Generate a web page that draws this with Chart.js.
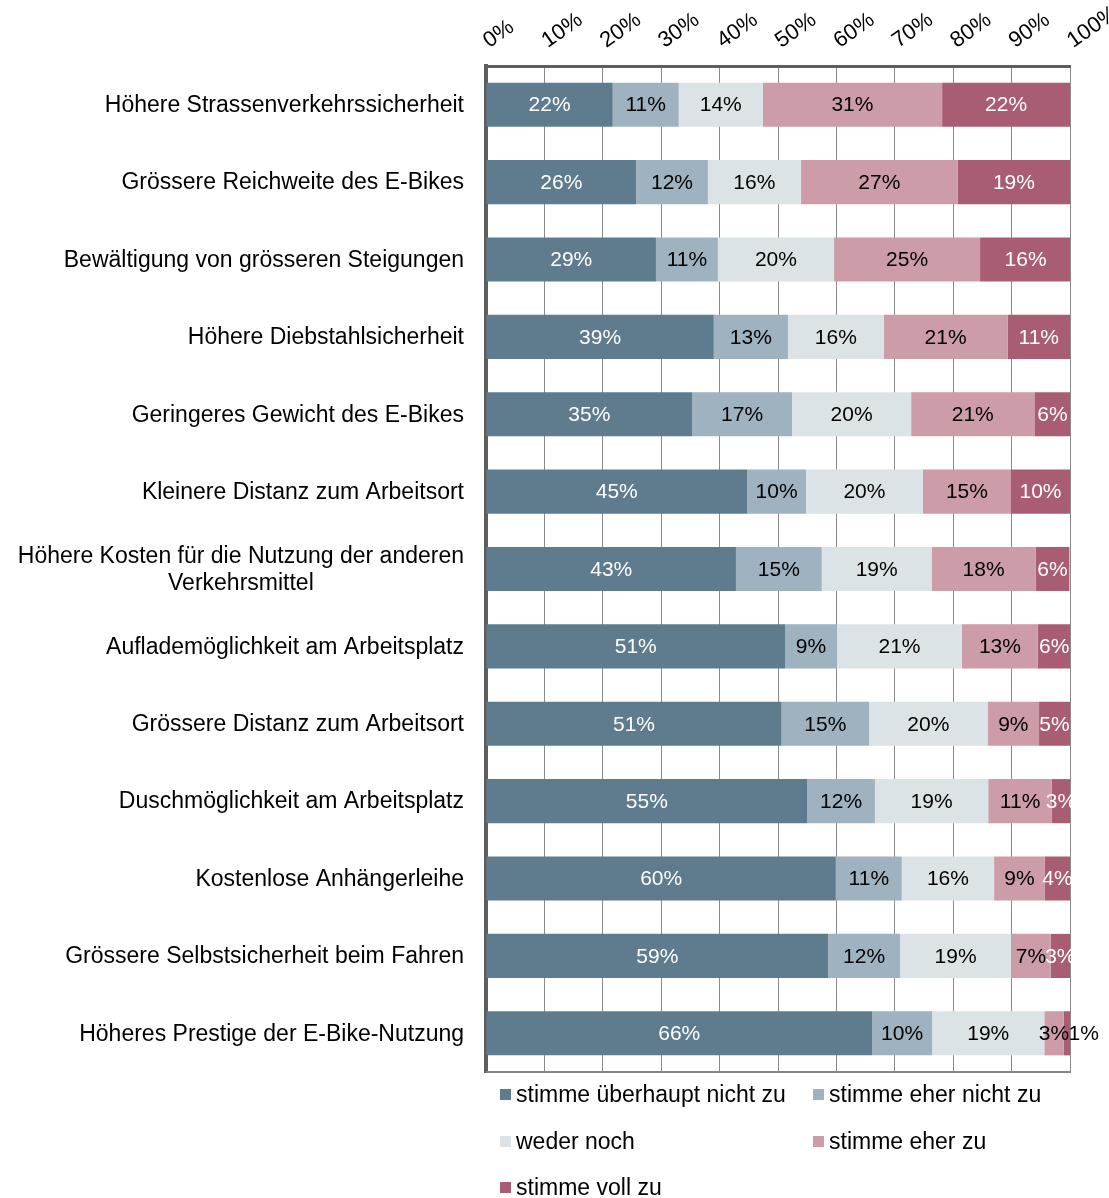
<!DOCTYPE html>
<html>
<head>
<meta charset="utf-8">
<script src="https://cdn.jsdelivr.net/npm/chart.js@4"></script>
<style>
  body { margin: 0; background: #fff; }
  #wrap { position: relative; width: 1109px; height: 1198px; }
  .legend { position: absolute; height: 24px; display: flex; align-items: center; font: 23px "Liberation Sans", Arial, sans-serif; color: #000; white-space: nowrap; }
  .legend i { display: inline-block; width: 11px; height: 11px; margin-right: 5px; }
</style>
</head>
<body>
<div id="wrap">
  <canvas id="c" width="1109" height="1198"></canvas>
</div>
<script>
// categories, top to bottom
var categories = [
  'Höhere Strassenverkehrssicherheit',
  'Grössere Reichweite des E-Bikes',
  'Bewältigung von grösseren Steigungen',
  'Höhere Diebstahlsicherheit',
  'Geringeres Gewicht des E-Bikes',
  'Kleinere Distanz zum Arbeitsort',
  ['Höhere Kosten für die Nutzung der anderen', 'Verkehrsmittel'],
  'Auflademöglichkeit am Arbeitsplatz',
  'Grössere Distanz zum Arbeitsort',
  'Duschmöglichkeit am Arbeitsplatz',
  'Kostenlose Anhängerleihe',
  'Grössere Selbstsicherheit beim Fahren',
  'Höheres Prestige der E-Bike-Nutzung'
];

var seriesNames = ['stimme überhaupt nicht zu', 'stimme eher nicht zu', 'weder noch', 'stimme eher zu', 'stimme voll zu'];

// shares in percent
var gar_nicht   = [21.7, 25.7, 29.1, 39.0, 35.3, 44.7, 42.8, 51.2, 50.6, 55.0, 59.9, 58.6, 66.1];
var eher_nicht  = [11.3, 12.3, 10.6, 12.7, 17.1, 10.1, 14.7,  8.9, 15.0, 11.6, 11.3, 12.3, 10.3];
var weder_noch  = [14.4, 15.9, 19.9, 16.4, 20.4, 20.0, 18.8, 21.4, 20.3, 19.4, 15.8, 19.0, 19.2];
var eher_zu     = [30.7, 26.9, 25.0, 21.2, 21.1, 15.1, 17.8, 13.0,  8.8, 10.9,  8.7,  6.8,  3.3];
var voll_zu     = [21.9, 19.2, 15.6, 10.7,  6.2, 10.1,  5.8,  5.6,  5.3,  3.1,  4.3,  3.3,  1.2];

var xTicks = [0, 10, 20, 30, 40, 50, 60, 70, 80, 90, 100];

var colors = ['#5e7c8e', '#9fb2c0', '#dce3e7', '#cc9ca8', '#a95d72'];
var labelColors = ['#fff', '#000', '#000', '#000', '#fff'];

var FONT = '"Liberation Sans", Arial, sans-serif';
var allSeries = [gar_nicht, eher_nicht, weder_noch, eher_zu, voll_zu];

var datasets = allSeries.map(function (d, i) {
  return {
    label: seriesNames[i],
    data: d,
    backgroundColor: colors[i],
    borderWidth: 0,
    barPercentage: 0.57,
    categoryPercentage: 1
  };
});

// value labels in the middle of each segment
var valueLabels = {
  id: 'valueLabels',
  afterDatasetsDraw: function (chart) {
    var ctx = chart.ctx;
    ctx.save();
    ctx.font = '21px ' + FONT;
    ctx.textBaseline = 'middle';
    chart.data.datasets.forEach(function (ds, di) {
      chart.getDatasetMeta(di).data.forEach(function (bar, i) {
        var v = ds.data[i];
        var p = bar.getProps(['x', 'y', 'base'], true);
        var txt = Math.round(v) + '%';
        if (di === 4 && v < 2) {
          // too thin: label pushed out past the bar end
          ctx.fillStyle = '#000';
          ctx.textAlign = 'left';
          ctx.fillText(txt, p.x - 2, p.y + 1);
        } else {
          ctx.fillStyle = labelColors[di];
          ctx.textAlign = 'center';
          ctx.fillText(txt, (p.x + p.base) / 2, p.y + 1);
        }
      });
    });
    ctx.restore();
  }
};

// category labels (block right aligned, lines centred) + bottom frame line
var catLabels = {
  id: 'catLabels',
  afterDraw: function (chart) {
    var ctx = chart.ctx;
    var y = chart.scales.y;
    var a = chart.chartArea;
    ctx.save();
    ctx.strokeStyle = '#858585';
    ctx.lineWidth = 2;
    ctx.beginPath();
    ctx.moveTo(a.left, a.bottom);
    ctx.lineTo(a.right + 1, a.bottom);
    ctx.stroke();

    ctx.font = '23px ' + FONT;
    ctx.fillStyle = '#000';
    ctx.textAlign = 'center';
    ctx.textBaseline = 'middle';
    var right = 464;
    categories.forEach(function (c, i) {
      var lines = Array.isArray(c) ? c : [c];
      var w = Math.max.apply(null, lines.map(function (l) { return ctx.measureText(l).width; }));
      var cx = right - w / 2;
      var cy = y.getPixelForTick(i);
      var lh = 27;
      lines.forEach(function (l, k) {
        ctx.fillText(l, cx, cy + 1 + (k - (lines.length - 1) / 2) * lh);
      });
    });
    ctx.restore();
  }
};

new Chart(document.getElementById('c'), {
  type: 'bar',
  data: { labels: categories, datasets: datasets },
  plugins: [valueLabels, catLabels],
  options: {
    indexAxis: 'y',
    responsive: false,
    animation: false,
    layout: { padding: { top: 0, right: 39, bottom: 126, left: 0 } },
    plugins: {
      legend: { display: false },
      tooltip: { enabled: false }
    },
    scales: {
      x: {
        position: 'top',
        stacked: true,
        min: 0,
        max: 100,
        afterBuildTicks: function (s) { s.ticks = xTicks.map(function (v) { return { value: v }; }); },
        afterFit: function (s) { s.height = 66; s.paddingLeft = 0; s.paddingRight = 0; },
        ticks: {
          font: { size: 22, family: FONT },
          color: '#000',
          minRotation: 35,
          maxRotation: 35,
          padding: 12,
          labelOffset: 15,
          callback: function (v) { return v + '%'; }
        },
        grid: { color: '#8a8a8a', lineWidth: 1, drawTicks: false },
        border: { color: '#5e5e5e', width: 3 }
      },
      y: {
        stacked: true,
        afterFit: function (s) { s.width = 486; },
        ticks: { display: false },
        grid: { display: false, drawTicks: false },
        border: { color: '#5e5e5e', width: 4 }
      }
    }
  }
});
</script>
<div class="legend" style="left:500px; top:1082px;"><i style="background:#5e7c8e"></i>stimme überhaupt nicht zu</div>
<div class="legend" style="left:813px; top:1082px;"><i style="background:#9fb2c0"></i>stimme eher nicht zu</div>
<div class="legend" style="left:500px; top:1129px;"><i style="background:#dce3e7"></i>weder noch</div>
<div class="legend" style="left:813px; top:1129px;"><i style="background:#cc9ca8"></i>stimme eher zu</div>
<div class="legend" style="left:500px; top:1175px;"><i style="background:#a95d72"></i>stimme voll zu</div>
</body>
</html>
